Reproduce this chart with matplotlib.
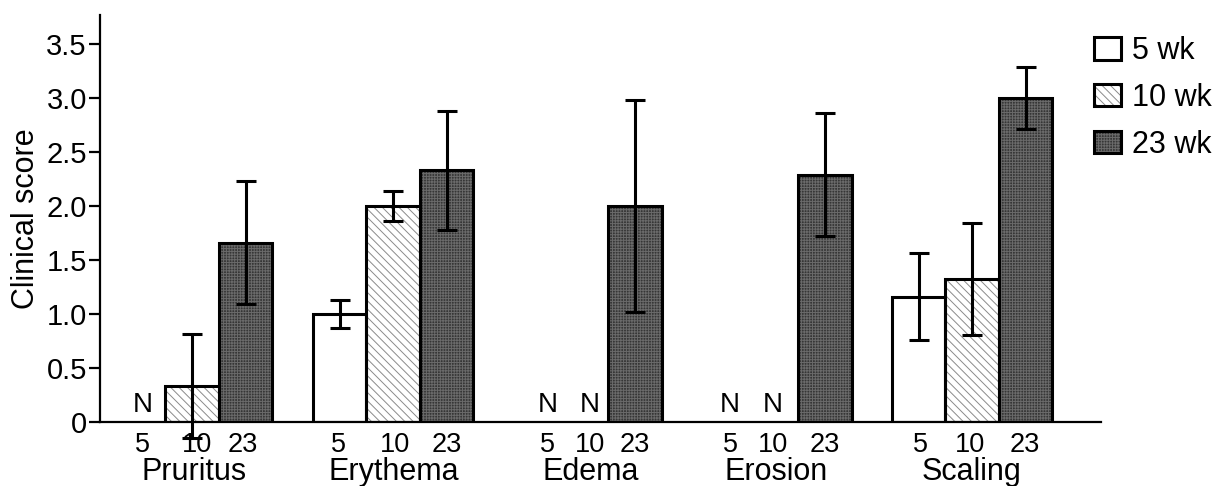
import matplotlib
matplotlib.use('Agg')
import matplotlib.pyplot as plt
from matplotlib.patches import Patch
from matplotlib.legend_handler import HandlerTuple
import numpy as np

plt.rcParams['font.family'] = ['Liberation Sans', 'DejaVu Sans']
plt.rcParams['hatch.linewidth'] = 0.7

# ---------------- data ----------------
categories = ['Pruritus', 'Erythema', 'Edema', 'Erosion', 'Scaling']
week_labels = ['5', '10', '23']
series_labels = ['5 wk', '10 wk', '23 wk']
score_5wk = [0.0, 1.0, 0.0, 0.0, 1.16]
score_10wk = [0.33, 2.0, 0.0, 0.0, 1.32]
score_23wk = [1.66, 2.33, 2.0, 2.29, 3.0]
err_5wk = [0.0, 0.13, 0.0, 0.0, 0.40]
err_10wk = [0.48, 0.14, 0.0, 0.0, 0.52]
err_23wk = [0.57, 0.55, 0.98, 0.57, 0.29]
nd_5wk = [True, False, True, True, False]
nd_10wk = [False, False, True, True, False]
yticks = [0, 0.5, 1.0, 1.5, 2.0, 2.5, 3.0, 3.5]
ytick_labels = ['0', '0.5', '1.0', '1.5', '2.0', '2.5', '3.0', '3.5']

# ---------------- layout / style ----------------
group_start = [0.22, 3.98, 7.5, 11.05, 14.8]
label_shift = [[0.08, 0.09, -0.05], [-0.03, 0.03, 0.01], [0.36, 0.16, 0.0],
               [0.23, 0.03, 0.0], [0.03, -0.04, -0.01]]
faces = ['white', 'white', '#363636']
hatches = [None, '\\\\\\\\', '++++++']
hatch_colors = ['white', '#8a8a8a', '#6a6a6a']
bar_lw = 2.2

scores = [score_5wk, score_10wk, score_23wk]
errs = [err_5wk, err_10wk, err_23wk]
nds = [nd_5wk, nd_10wk, [False] * len(categories)]

fig = plt.figure(figsize=(12.25, 4.86), dpi=100)
ax = fig.add_axes([100 / 1225, 64.3 / 486, 1001 / 1225, (421.7 - 15) / 486])

starts = np.array(group_start)
for i in range(3):
    x = starts + 0.5 + i
    h = np.array(scores[i])
    e = np.array(errs[i])
    has = h > 0
    ax.bar(x[has], h[has], width=1.0, color=faces[i], edgecolor=hatch_colors[i],
           hatch=hatches[i], linewidth=0, zorder=2)
    ax.bar(x[has], h[has], width=1.0, fill=False, edgecolor='black',
           linewidth=bar_lw, zorder=3)
    ax.errorbar(x[has], h[has], yerr=e[has], fmt='none', ecolor='black',
                elinewidth=2.2, capsize=7, capthick=2.2, zorder=4, clip_on=False)

# tick labels, N markers, group names
for g, cat in enumerate(categories):
    for i in range(3):
        xc = starts[g] + 0.5 + i + label_shift[g][i]
        ax.text(xc, -0.1, week_labels[i], ha='center', va='top', fontsize=19.5,
                clip_on=False)
        if nds[i][g]:
            ax.text(xc, 0.03, 'N', ha='center', va='bottom', fontsize=20)
    gx = np.mean([starts[g] + 0.5 + i + label_shift[g][i] for i in range(3)])
    ax.text(gx, -0.33, cat, ha='center', va='top', fontsize=22, clip_on=False)

ax.set_xlim(0, 1001 / 53.5)
ax.set_ylim(0, 3.77)
ax.set_xticks([])
ax.set_yticks(yticks)
ax.set_yticklabels(ytick_labels, fontsize=21)
ax.tick_params(axis='y', length=8, width=1.6, pad=1.5)
for s in ['top', 'right']:
    ax.spines[s].set_visible(False)
for s in ['left', 'bottom']:
    ax.spines[s].set_linewidth(1.6)
ax.set_ylabel('Clinical score', fontsize=22, labelpad=4)

handles = []
for i in range(3):
    p1 = Patch(facecolor=faces[i], edgecolor=hatch_colors[i], hatch=hatches[i], linewidth=0)
    p2 = Patch(fill=False, edgecolor='black', linewidth=2.2)
    handles.append((p1, p2))
fig.legend(handles, series_labels, loc='upper left', bbox_to_anchor=(1094 / 1225, 1 - 36 / 486),
           frameon=False, fontsize=22, handlelength=0.88, handleheight=0.75,
           handletextpad=0.36, labelspacing=0.55, borderpad=0, borderaxespad=0,
           handler_map={tuple: HandlerTuple(ndivide=1, pad=0)})

fig.savefig('out.png', dpi=100)
